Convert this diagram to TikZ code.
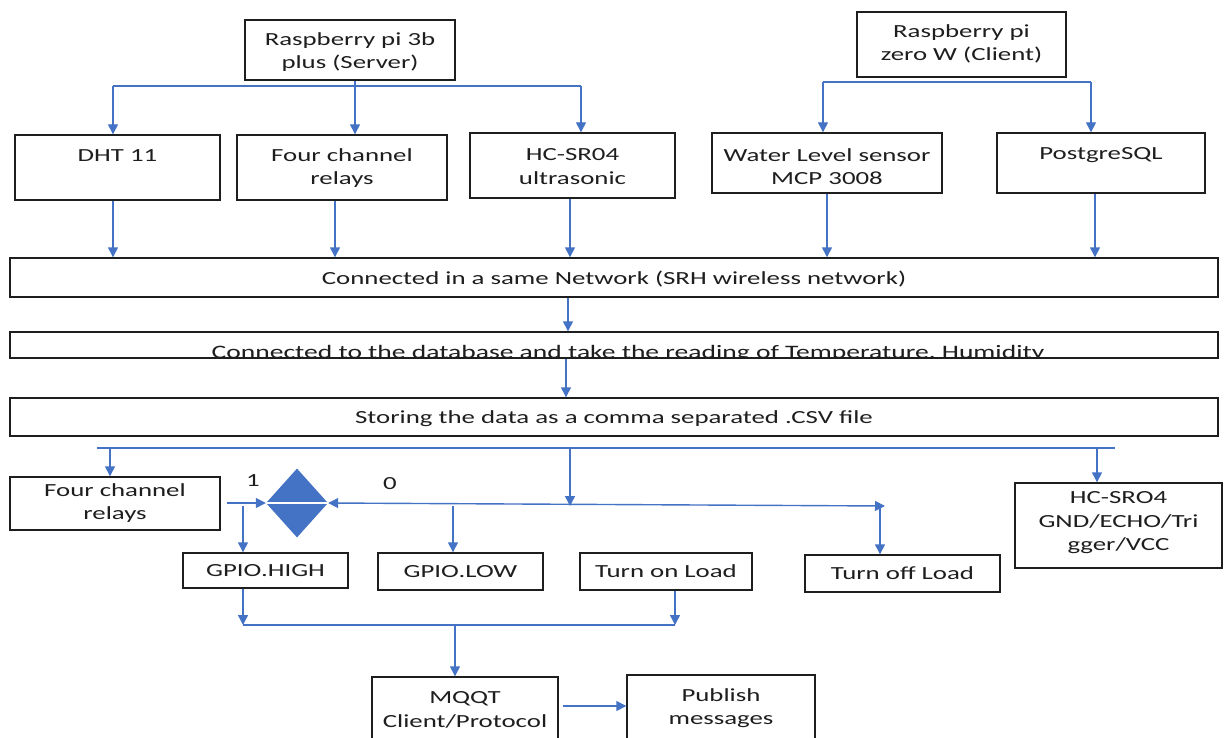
\documentclass[tikz,border=0pt]{standalone}
\usepackage{fontspec}
\setmainfont{Carlito}[FakeStretch=1.45]
\usetikzlibrary{arrows.meta,shapes.geometric}
\definecolor{ablue}{RGB}{68,114,196}
\definecolor{tx}{RGB}{30,30,30}
\tikzset{
  box/.style={draw=tx, line width=1.4pt, inner sep=0pt, text=tx},
  cbox/.style={box, font=\fontsize{18.5}{23}\selectfont, text depth=0pt},
  txt/.style={font=\fontsize{18.5}{23.5}\selectfont, align=center, inner sep=0pt, anchor=north, text=tx},
  arr/.style={draw=ablue, line width=1.4pt, -{Triangle[length=10pt,width=10pt]}},
  ln/.style={draw=ablue, line width=1.4pt},
}
\begin{document}
\begin{tikzpicture}[x=1pt,y=-1pt]
\useasboundingbox (0,0) rectangle (1226,738);
\fill[white] (0,0) rectangle (1226,738);
% top boxes
\node[box, minimum width=210, minimum height=60] (srv) at (350,50) {};
\node[txt] (srvt) at ([yshift=-13pt]srv.north) {Raspberry pi 3b\\plus (Server)};
\node[box, minimum width=209, minimum height=65] (cli) at (961.5,44.5) {};
\node[txt] (clit) at ([yshift=-13pt]cli.north) {Raspberry pi\\zero W (Client)};
\node[box, minimum width=205, minimum height=65] (dht) at (117.5,167.5) {};
\node[txt] (dhtt) at ([yshift=-15pt]dht.north) {DHT 11};
\node[box, minimum width=210, minimum height=65] (rel1) at (342,167.5) {};
\node[txt] (rel1t) at ([yshift=-14pt]rel1.north) {Four channel\\relays};
\node[box, minimum width=205, minimum height=65] (hcs) at (572.5,165.5) {};
\node[txt] (hcst) at ([yshift=-16pt]hcs.north) {HC-SR04\\ultrasonic};
\node[box, minimum width=230, minimum height=60] (wat) at (827,163) {};
\node[txt] (watt) at ([yshift=-16pt]wat.north) {Water Level sensor\\MCP 3008};
\node[box, minimum width=208, minimum height=60] (pg) at (1101,163) {};
\node[txt] (pgt) at ([yshift=-15pt]pg.north) {PostgreSQL};
% wide boxes
\node[cbox, minimum width=1208, minimum height=39] (net) at (614,277.5) {Connected in a same Network (SRH wireless network)};
\begin{scope}
\clip (10,332) rectangle (1218,357);
\node[font=\fontsize{19}{23}\selectfont, anchor=base, inner sep=0pt, text=tx] (dbt) at (628,358.5) {Connected to the database and take the reading of Temperature, Humidity};
\end{scope}
\node[box, minimum width=1208, minimum height=26] (db) at (614,345) {};
\node[cbox, minimum width=1208, minimum height=38] (csv) at (614,417) {Storing the data as a comma separated .CSV file};
% lower boxes
\node[box, minimum width=210, minimum height=53] (rel2) at (115,503.5) {};
\node[txt] (rel2t) at ([yshift=-7pt]rel2.north) {Four channel\\relays};
\node[box, minimum width=207, minimum height=85] (hc2) at (1118.5,525.5) {};
\node[txt] (hc2t) at ([yshift=-9pt]hc2.north) {HC-SRO4\\GND/ECHO/Tri\\gger/VCC};
\node[cbox, minimum width=165, minimum height=35] (high) at (265.5,570.5) {GPIO.HIGH};
\node[cbox, minimum width=165, minimum height=37] (low) at (460.5,571.5) {GPIO.LOW};
\node[cbox, minimum width=172, minimum height=37] (on) at (666,571.5) {Turn on Load};
\node[cbox, minimum width=195, minimum height=37] (off) at (902.5,573.5) {Turn off Load};
\node[box, minimum width=186, minimum height=83] (mq) at (465,718.5) {};
\node[txt] (mqt) at ([yshift=-15pt]mq.north) {MQQT\\Client/Protocol};
\node[box, minimum width=188, minimum height=85] (pub) at (721,717.5) {};
\node[txt] (pubt) at ([yshift=-14pt]pub.north) {Publish\\messages};
% diamond
\node[diamond, fill=ablue, minimum width=62, minimum height=69, inner sep=0pt] (dia) at (297,503) {};
\draw[white, line width=1.6pt] (dia.west) -- (dia.east);
\node[txt, anchor=center] (one) at (253,481) {1};
\node[txt, anchor=center] (zero) at (390,484) {0};
% top connectors
\coordinate (sa) at (113,86);
\coordinate (sb) at (581,86);
\draw[ln] (sa) -- (sb);
\draw[ln] ([xshift=5pt]srv.south) -- ([xshift=5pt]srv.south |- sa);
\draw[arr] (sa) -- (sa |- dht.north);
\draw[arr] ([xshift=5pt]srv.south |- sa) -- ([xshift=5pt]srv.south |- rel1.north);
\draw[arr] (sb) -- (sb |- hcs.north);
\coordinate (ca) at (823,82);
\coordinate (cb) at (1091,82);
\draw[ln] (ca) -- (cb);
\draw[arr] (ca) -- (ca |- wat.north);
\draw[arr] (cb) -- (cb |- pg.north);
\draw[arr] ([xshift=-4.5pt]dht.south) -- ([xshift=-4.5pt]dht.south |- net.north);
\draw[arr] ([xshift=-7pt]rel1.south) -- ([xshift=-7pt]rel1.south |- net.north);
\draw[arr] ([xshift=-2.5pt]hcs.south) -- ([xshift=-2.5pt]hcs.south |- net.north);
\draw[arr] (wat.south) -- (wat.south |- net.north);
\draw[arr] ([xshift=-6pt]pg.south) -- ([xshift=-6pt]pg.south |- net.north);
\draw[arr] ([xshift=-46pt]net.south) -- ([xshift=-46pt]net.south |- db.north);
\draw[arr] ([xshift=-48pt]db.south) -- ([xshift=-48pt]db.south |- csv.north);
% lower connectors
\coordinate (la) at (97,448);
\coordinate (lb) at (1115,448);
\draw[ln] (la) -- (lb);
\coordinate (d1) at (110,448);
\draw[arr] (d1) -- (d1 |- rel2.north);
\coordinate (d3) at (1097,448);
\draw[arr] (d3) -- (d3 |- hc2.north);
\coordinate (rt) at (885,506);
\coordinate (d2) at (570,448);
\draw[arr] (d2) -- (d2 |- rt);
\draw[arr] ([xshift=6pt]rel2.east |- dia.west) -- (dia.west);
\coordinate (g1) at (243,506);
\draw[arr] (g1) -- (g1 |- high.north);
\draw[draw=ablue, line width=1.4pt, {Triangle[length=10pt,width=10pt]}-{Triangle[length=10pt,width=10pt]}] (dia.east) -- (rt);
\coordinate (g2) at (453,506);
\draw[arr] (g2) -- (g2 |- low.north);
\coordinate (g3) at (880,506);
\draw[arr] (g3) -- (g3 |- off.north);
\coordinate (m) at (455,625);
\draw[arr] (high.south -| g1) -- (g1 |- m);
\coordinate (g4) at (675,625);
\draw[arr] (on.south -| g4) -- (g4);
\draw[ln] (g1 |- m) -- (g4);
\draw[arr] (m) -- (m |- mq.north);
\coordinate (pm) at (0,706);
\draw[arr] ([xshift=4pt]mq.east |- pm) -- (pub.west |- pm);
\end{tikzpicture}
\end{document}
